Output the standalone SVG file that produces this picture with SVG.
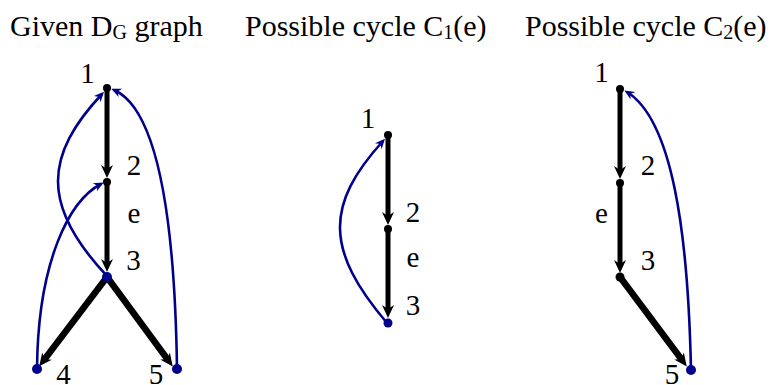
<svg xmlns="http://www.w3.org/2000/svg" width="777" height="385" viewBox="0 0 777 385">
<style>
text{fill:#000}
.t{font-size:30px}
.l{font-size:29px;text-anchor:middle}
.k{stroke:#000;stroke-width:5;fill:none}
.kt{stroke:#000;stroke-width:6.5;fill:none}
.b{stroke:#00008B;stroke-width:2.6;fill:none}
.kd{fill:#000}
.bd{fill:#00008B}
</style>
<defs>
<marker id="ak" markerUnits="userSpaceOnUse" viewBox="-6 -7 16 14" markerWidth="16" markerHeight="14" refX="0" refY="0" orient="auto">
<path d="M8,0 L-5,-6 L-1,0 L-5,6 Z" fill="#000"/>
</marker>
<marker id="ab" markerUnits="userSpaceOnUse" viewBox="-8 -6 12 12" markerWidth="12" markerHeight="12" refX="0" refY="0" orient="auto">
<path d="M3,0 L-7,-4.5 L-4,0 L-7,4.5 Z" fill="#00008B"/>
</marker>
</defs>
<g font-family="'Liberation Serif', 'Times New Roman', serif">
<g id="titles">
<text class="t" x="10" y="36">Given D<tspan font-size="20" dy="3">G</tspan><tspan dy="-3"> graph</tspan></text>
<text class="t" x="245" y="36">Possible cycle C<tspan font-size="20" dy="3">1</tspan><tspan dy="-3">(e)</tspan></text>
<text class="t" x="525" y="36">Possible cycle C<tspan font-size="20" dy="3">2</tspan><tspan dy="-3">(e)</tspan></text>
</g>
<g id="connectors">
<path class="k" d="M107,88 L107,170" marker-end="url(#ak)"/>
<path class="k" d="M107,182 L107,264" marker-end="url(#ak)"/>
<path class="kt" d="M107,277 L44,360" marker-end="url(#ak)"/>
<path class="kt" d="M107,277 L168,360" marker-end="url(#ak)"/>
<path class="b" d="M107,276 C40,205 45,155 102,94" marker-end="url(#ab)"/>
<path class="b" d="M37,369 C38,260 70,200 101,184" marker-end="url(#ab)"/>
<path class="b" d="M177,369 C175,230 160,110 114,90" marker-end="url(#ab)"/>
<path class="k" d="M388,135 L388,217" marker-end="url(#ak)"/>
<path class="k" d="M388,229 L388,310" marker-end="url(#ak)"/>
<path class="b" d="M387,323 C325,250 325,205 383,141" marker-end="url(#ab)"/>
<path class="k" d="M620,89 L620,171" marker-end="url(#ak)"/>
<path class="k" d="M620,183 L620,265" marker-end="url(#ak)"/>
<path class="kt" d="M620,277 L682,360" marker-end="url(#ak)"/>
<path class="b" d="M691,370 C688,230 672,120 627,92" marker-end="url(#ab)"/>
</g>
<g id="g1n1"><circle class="kd" cx="107" cy="88" r="4"/><text class="l" x="87.5" y="83">1</text></g>
<g id="g1n2"><circle class="kd" cx="107" cy="182" r="4"/><text class="l" x="134" y="175">2</text></g>
<g id="g1e"><text class="l" x="134" y="223">e</text></g>
<g id="g1n3"><circle class="bd" cx="107" cy="277" r="5"/><text class="l" x="133.5" y="270">3</text></g>
<g id="g1n4"><circle class="bd" cx="37" cy="369" r="5"/><text class="l" x="63.5" y="384">4</text></g>
<g id="g1n5"><circle class="bd" cx="177" cy="369" r="5"/><text class="l" x="156" y="384">5</text></g>
<g id="g2n1"><circle class="kd" cx="388" cy="135" r="4"/><text class="l" x="368" y="128">1</text></g>
<g id="g2n2"><circle class="kd" cx="388" cy="229" r="4"/><text class="l" x="413" y="222">2</text></g>
<g id="g2e"><text class="l" x="413" y="267">e</text></g>
<g id="g2n3"><circle class="bd" cx="388" cy="323" r="4.5"/><text class="l" x="413" y="315">3</text></g>
<g id="g3n1"><circle class="kd" cx="620" cy="89" r="4"/><text class="l" x="601.5" y="82">1</text></g>
<g id="g3n2"><circle class="kd" cx="620" cy="183" r="4"/><text class="l" x="648" y="175">2</text></g>
<g id="g3e"><text class="l" x="601.5" y="223">e</text></g>
<g id="g3n3"><circle class="kd" cx="620" cy="277" r="4.5"/><text class="l" x="648" y="270">3</text></g>
<g id="g3n5"><circle class="bd" cx="691" cy="370" r="5"/><text class="l" x="672" y="384">5</text></g>
</g>
</svg>
